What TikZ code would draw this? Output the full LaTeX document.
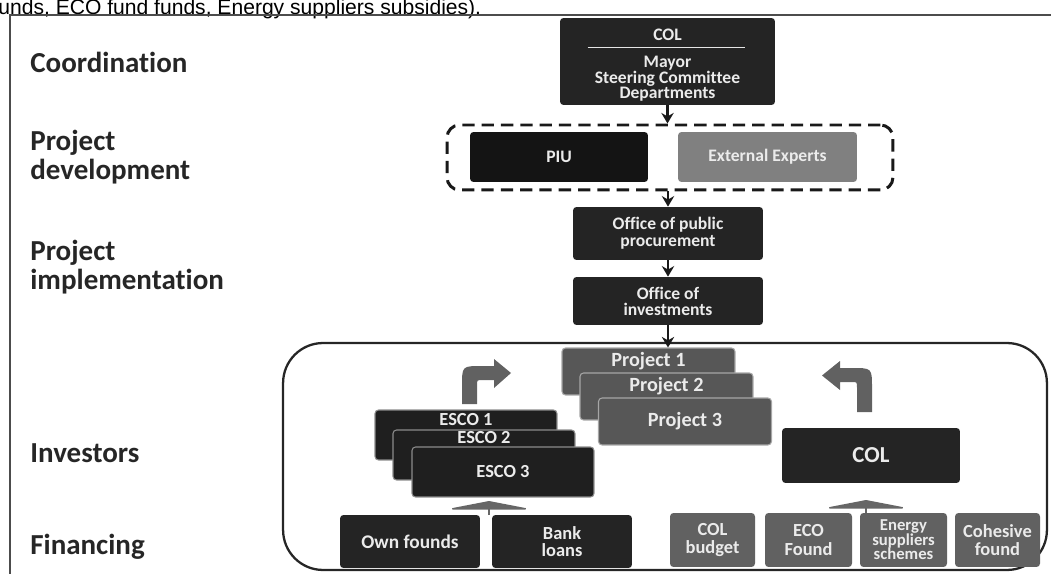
\documentclass[tikz,border=0pt]{standalone}
\usepackage{fontspec}
\setmainfont{Carlito}[Ligatures=NoCommon]
\newfontfamily\arialfont{Liberation Sans}
\usetikzlibrary{arrows.meta,calc}
\begin{document}
\begin{tikzpicture}[x=0.02cm,y=-0.02cm,
  box/.style={rounded corners=2pt, text=white!92!black, align=center, inner sep=0pt,
    font=\fontsize{10}{9.5}\selectfont\bfseries},
  darkbox/.style={box, fill=black!86},
  greybox/.style={box, fill=black!50},
  projbox/.style={box, fill=black!66, draw=black!35, line width=0.6pt},
  escobox/.style={box, fill=black!88, draw=black!45, line width=0.6pt},
  finbox/.style={box, fill=black!62},
  boxtext/.style={text=white!92!black, font=\fontsize{10.5}{10}\selectfont\bfseries, inner sep=0pt, align=center},
  lbl/.style={anchor=west, align=left, text=black!85, inner sep=0pt,
    font=\fontsize{16.5}{16.5}\selectfont\bfseries},
  flow/.style={-{Stealth[length=6pt,width=7pt]}, line width=1.3pt, black!90},
  blockarrow/.style={fill=black!62},
  widehead/.style={line width=0.8pt, black!60, -{Triangle[width=1.76cm,length=0.17cm]}},
]
\useasboundingbox (0,0) rectangle (1051,574);

% caption fragment and frame
\node[anchor=base west, inner sep=0pt, font=\arialfont\fontsize{12}{12}\selectfont] (caption) at (-2,15) {unds, ECO fund funds, Energy suppliers subsidies).};
\draw[black!70, line width=0.9pt] (1051,15) -- (10,15) -- (10,574);

% left labels
\node[lbl] (lcoord) at (30,62) {Coordination};
\node[lbl] (ldev) at (30,157.5) {Project\\development};
\node[lbl] (limpl) at (30,267.5) {Project\\implementation};
\node[lbl] (linv) at (30,453) {Investors};
\node[lbl] (lfin) at (30,547) {Financing};

% coordination
\node[darkbox, minimum width=4.3cm, minimum height=1.74cm] (colTop) at (667.5,61.5) {};
\node[boxtext, font=\fontsize{10}{8.8}\selectfont\bfseries] (colTopt) at ($(colTop)+(0,3.5)$)
  {COL\\[7pt]Mayor\\Steering Committee\\Departments};
\draw[white!90!black, line width=0.8pt] ($(colTop.north west)+(28,30)$) -- ($(colTop.north east)+(-30,30)$);

% project development
\node[draw=black!90, dashed, dash pattern=on 7pt off 4pt, line width=1.7pt, rounded corners=0.25cm,
  minimum width=8.92cm, minimum height=1.3cm, inner sep=0pt] (devgroup) at (670,157.5) {};
\node[darkbox, fill=black!92, minimum width=3.56cm, minimum height=1.0cm] (piu) at (559,157) {PIU};
\node[greybox, minimum width=3.58cm, minimum height=1.0cm] (ext) at (767.5,157) {External Experts};

% implementation
\node[darkbox, minimum width=3.8cm, minimum height=1.06cm, font=\fontsize{10}{9.7}\selectfont\bfseries] (proc) at (668,233.5) {Office of public\\procurement};
\node[darkbox, minimum width=3.8cm, minimum height=0.96cm, font=\fontsize{10}{9.2}\selectfont\bfseries] (inv) at (668,301) {Office of\\investments};

% investors group
\node[draw=black!85, line width=1.3pt, rounded corners=0.8cm, minimum width=15.28cm, minimum height=4.54cm, inner sep=0pt] (invgroup) at (665,456.5) {};

% projects
\node[projbox, minimum width=3.46cm, minimum height=0.94cm] (p1) at (648.5,371.5) {};
\node[boxtext, font=\fontsize{11.5}{11}\selectfont\bfseries] (p1t) at ($(p1)+(0,-10)$) {Project 1};
\node[projbox, minimum width=3.46cm, minimum height=0.94cm] (p2) at (666.5,396.5) {};
\node[boxtext, font=\fontsize{11.5}{11}\selectfont\bfseries] (p2t) at ($(p2)+(0,-10)$) {Project 2};
\node[projbox, minimum width=3.46cm, minimum height=0.94cm] (p3) at (685,421.5) {};
\node[boxtext, font=\fontsize{11.5}{11}\selectfont\bfseries] (p3t) at (p3) {Project 3};

% ESCOs
\node[escobox, minimum width=3.64cm, minimum height=1.0cm] (e1) at (466,435) {};
\node[boxtext] (e1t) at ($(e1)+(0,-15)$) {ESCO 1};
\node[escobox, minimum width=3.64cm, minimum height=1.0cm] (e2) at (484,455) {};
\node[boxtext] (e2t) at ($(e2)+(0,-17)$) {ESCO 2};
\node[escobox, minimum width=3.64cm, minimum height=1.0cm] (e3) at (503,472) {};
\node[boxtext] (e3t) at (e3) {ESCO 3};

% COL investor
\node[darkbox, minimum width=3.56cm, minimum height=1.1cm, font=\fontsize{13}{13}\selectfont\bfseries] (colR) at (871,455.5) {COL};

% block arrows
\fill[blockarrow] (462,404) -- (462,386) .. controls (462,366) and (462,366) .. (482,366) -- (494,366)
  -- (494,359) -- (511,373) -- (494,388) -- (494,380) -- (482,380) .. controls (477,380) and (477,380) .. (477,386) -- (477,404) -- cycle;
\fill[blockarrow] (872,412) -- (872,388) .. controls (872,368) and (872,368) .. (852,368) -- (840,368)
  -- (840,361) -- (822,375.5) -- (840,390) -- (840,382) -- (852,382) .. controls (857,382) and (857,382) .. (857,388) -- (857,412) -- cycle;

% financing
\node[darkbox, minimum width=2.8cm, minimum height=1.06cm, font=\fontsize{11}{11}\selectfont\bfseries] (own) at (410,541.5) {Own founds};
\node[darkbox, minimum width=2.8cm, minimum height=1.06cm, font=\fontsize{10.5}{10}\selectfont\bfseries] (bank) at (562,541.5) {Bank\\loans};
\node[finbox, minimum width=1.7cm, minimum height=1.08cm, font=\fontsize{10.5}{10.5}\selectfont\bfseries] (colb) at (712.5,540) {COL\\budget};
\node[finbox, minimum width=1.74cm, minimum height=1.08cm, font=\fontsize{10.5}{10.5}\selectfont\bfseries] (eco) at (808.5,540) {ECO\\Found};
\node[finbox, minimum width=1.74cm, minimum height=1.08cm, font=\fontsize{9.5}{8.3}\selectfont\bfseries] (energy) at (903.5,540) {Energy\\suppliers\\schemes};
\node[finbox, minimum width=1.7cm, minimum height=1.08cm, font=\fontsize{10.5}{10.5}\selectfont\bfseries] (cohesive) at (997.5,540) {Cohesive\\found};

% connectors
\draw[flow] (colTop.south) -- (colTop.south |- devgroup.north);
\draw[flow] (devgroup.south -| proc.north) -- (proc.north);
\draw[flow] (proc.south) -- (inv.north);
\draw[flow] (inv.south) -- (inv.south |- p1.north);

\coordinate (fl) at (489,515);
\coordinate (flt) at (489,501);
\draw[widehead] (fl) -- (flt);
\coordinate (fr) at (866,513);
\coordinate (frt) at (866,500);
\draw[widehead] (fr) -- (frt);
\end{tikzpicture}
\end{document}
